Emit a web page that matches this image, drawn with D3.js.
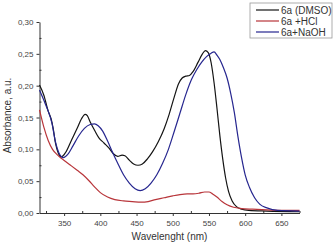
<!DOCTYPE html>
<html>
<head>
<meta charset="utf-8">
<script src="https://cdn.jsdelivr.net/npm/d3@7"></script>
<style>
  body { margin: 0; background: #fff; }
  svg { display: block; font-family: "Liberation Sans", Arial, sans-serif; }
</style>
</head>
<body>
<svg id="chart"></svg>
<script>
(() => {

  // spectra (wavelength nm / absorbance)
  const dmsoX = [316, 322, 328, 332, 335, 338, 342, 346, 352, 360, 368, 374, 379, 382, 386, 392, 398, 405, 412, 418, 424, 430, 434, 440, 446, 452, 458, 465, 472, 480, 488, 495, 502, 508, 513, 518, 523, 528, 535, 541, 545, 549, 553, 557, 561, 565, 569, 573, 577, 582, 588, 595, 605, 630, 675];
  const dmsoY = [0.201, 0.185, 0.160, 0.148, 0.132, 0.110, 0.094, 0.088, 0.095, 0.114, 0.133, 0.148, 0.155, 0.153, 0.143, 0.130, 0.118, 0.110, 0.102, 0.093, 0.089, 0.091, 0.090, 0.083, 0.077, 0.075, 0.077, 0.085, 0.096, 0.112, 0.132, 0.155, 0.182, 0.203, 0.212, 0.215, 0.216, 0.222, 0.237, 0.250, 0.255, 0.252, 0.236, 0.205, 0.165, 0.122, 0.085, 0.055, 0.034, 0.019, 0.010, 0.006, 0.004, 0.003, 0.002];

  const hclX = [316, 322, 328, 334, 340, 346, 352, 360, 368, 376, 384, 392, 400, 410, 420, 432, 444, 456, 466, 476, 488, 500, 510, 520, 528, 536, 544, 550, 555, 561, 568, 575, 584, 595, 610, 630, 650, 675];
  const hclY = [0.162, 0.135, 0.114, 0.100, 0.092, 0.086, 0.081, 0.074, 0.067, 0.060, 0.051, 0.041, 0.032, 0.025, 0.021, 0.019, 0.018, 0.017, 0.018, 0.021, 0.024, 0.027, 0.029, 0.030, 0.030, 0.031, 0.033, 0.033, 0.030, 0.025, 0.018, 0.013, 0.009, 0.007, 0.006, 0.005, 0.004, 0.004];

  const naohX = [316, 322, 328, 333, 338, 343, 349, 355, 362, 370, 378, 386, 392, 397, 403, 410, 417, 424, 432, 440, 448, 455, 462, 470, 478, 486, 494, 502, 510, 518, 526, 533, 540, 547, 553, 557, 561, 565, 570, 575, 580, 585, 590, 595, 600, 606, 613, 620, 630, 645, 675];
  const naohY = [0.193, 0.177, 0.160, 0.142, 0.112, 0.094, 0.087, 0.092, 0.105, 0.121, 0.133, 0.139, 0.140, 0.137, 0.129, 0.113, 0.095, 0.078, 0.060, 0.047, 0.038, 0.035, 0.038, 0.047, 0.060, 0.078, 0.100, 0.128, 0.157, 0.186, 0.210, 0.225, 0.237, 0.246, 0.251, 0.253, 0.248, 0.241, 0.228, 0.212, 0.188, 0.158, 0.120, 0.087, 0.060, 0.040, 0.024, 0.014, 0.008, 0.004, 0.003];

  const seriesNames = ['6a (DMSO)', '6a +HCl', '6a+NaOH'];
  const xTicks = [350, 400, 450, 500, 550, 600, 650];
  const yTicks = [0, 0.05, 0.10, 0.15, 0.20, 0.25, 0.30];

  const colors = ['#141414', '#b8353a', '#26268f'];

  const svgWidth = 333;
  const svgHeight = 244;
  const left = 39.5, right = 299.5, top = 22, bottom = 213;

  const svg = d3.select('#chart')
    .attr('width', svgWidth)
    .attr('height', svgHeight);

  const xScale = d3.scaleLinear().domain([316, 675]).range([left, right]);
  const yScale = d3.scaleLinear().domain([0, 0.30]).range([bottom, top]);

  const fmt = d3.format('.2f');
  const axisColor = '#333';

  // x axis: major ticks out, minor ticks in
  const xAxis = svg.append('g')
    .attr('transform', `translate(0,${bottom})`)
    .call(d3.axisBottom(xScale).tickValues(xTicks).tickSize(3).tickSizeOuter(0).tickPadding(4));
  svg.append('g')
    .attr('transform', `translate(0,${bottom})`)
    .call(d3.axisBottom(xScale).tickValues(d3.range(325, 676, 50)).tickSize(-2).tickSizeOuter(0).tickFormat(''))
    .call(g => g.select('.domain').remove());

  const yAxis = svg.append('g')
    .attr('transform', `translate(${left},0)`)
    .call(d3.axisLeft(yScale).tickValues(yTicks).tickSize(3).tickSizeOuter(0).tickPadding(3)
      .tickFormat(d => fmt(d).replace('.', ',')));
  svg.append('g')
    .attr('transform', `translate(${left},0)`)
    .call(d3.axisLeft(yScale).tickValues(d3.range(0.025, 0.3, 0.05)).tickSize(-2).tickSizeOuter(0).tickFormat(''))
    .call(g => g.select('.domain').remove());

  svg.selectAll('.domain, .tick line').attr('stroke', axisColor);
  svg.selectAll('.tick text').attr('fill', '#444').attr('font-size', 8)
    .attr('font-family', '"Liberation Sans", Arial, sans-serif');

  // curves
  const line = d3.line()
    .x(d => xScale(d[0]))
    .y(d => yScale(d[1]))
    .curve(d3.curveMonotoneX);

  const series = [
    d3.zip(dmsoX, dmsoY),
    d3.zip(hclX, hclY),
    d3.zip(naohX, naohY)
  ];

  svg.append('g').selectAll('path')
    .data(series)
    .enter()
    .append('path')
    .attr('d', line)
    .attr('fill', 'none')
    .attr('stroke', (d, i) => colors[i])
    .attr('stroke-width', 1.2);

  // axis titles
  svg.append('text')
    .attr('x', (left + right) / 2)
    .attr('y', 240)
    .attr('text-anchor', 'middle')
    .attr('font-size', 10)
    .attr('fill', '#333')
    .text('Wavelenght (nm)');

  svg.append('text')
    .attr('transform', `translate(11,${(top + bottom) / 2 - 2}) rotate(-90)`)
    .attr('text-anchor', 'middle')
    .attr('font-size', 10)
    .attr('fill', '#333')
    .text('Absorbance, a.u.');

  // legend
  const legend = svg.append('g').attr('transform', 'translate(250,3)');
  legend.append('rect')
    .attr('width', 82).attr('height', 35)
    .attr('fill', '#fff').attr('stroke', '#999').attr('stroke-width', 0.8);

  const rows = legend.selectAll('g.row')
    .data(seriesNames)
    .enter()
    .append('g')
    .attr('class', 'row')
    .attr('transform', (d, i) => `translate(0,${7 + i * 11})`);

  rows.append('line')
    .attr('x1', 6).attr('x2', 29)
    .attr('stroke', (d, i) => colors[i])
    .attr('stroke-width', 1.2);

  rows.append('text')
    .attr('x', 31)
    .attr('dy', '0.35em')
    .attr('font-size', 10)
    .attr('fill', '#333')
    .text(d => d);

})();
</script>
</body>
</html>
